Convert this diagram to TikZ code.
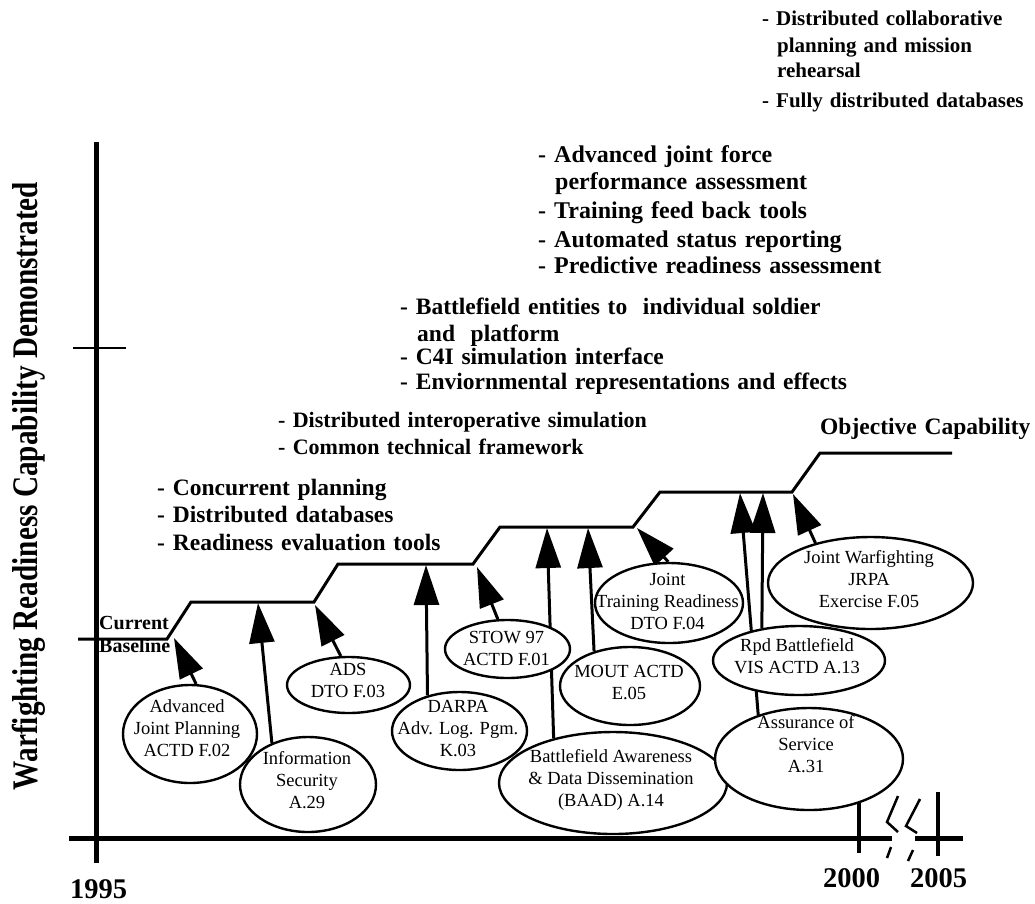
\documentclass[tikz,border=0pt]{standalone}
\usepackage{fontspec}
\setmainfont{Liberation Serif}
\usepackage{graphicx}
\usetikzlibrary{arrows.meta,shapes.geometric}
\pgfdeclarelayer{background}
\pgfsetlayers{background,main}

\begin{document}
\begin{tikzpicture}[x=1pt,y=-1pt,
  axisline/.style={line width=4.5pt},
  thintick/.style={line width=2pt},
  breakmark/.style={line width=2.5pt},
  stepline/.style={line width=3pt,line join=miter},
  oval/.style={ellipse,draw,fill=white,line width=2.4pt,inner sep=0pt},
  ovaltext/.style={font=\fontsize{18.5}{22}\selectfont,align=center,inner sep=0pt},
  feed/.style={line width=3pt,-{Triangle[length=40pt,width=25pt]}},
  bullets/.style={font=\fontsize{22}{27}\selectfont\bfseries,text width=520pt,
    align=left,anchor=base west,inner sep=0pt},
  bulletsize/.style={font=\fontsize{#1}{27}\selectfont\bfseries},
  yearlabel/.style={font=\fontsize{28.5}{30}\selectfont\bfseries,anchor=base,inner sep=0pt}]
\useasboundingbox (0,0) rectangle (1035,903);

% axes
\draw[axisline] (96.5,142) -- (96.5,863);
\draw[axisline,line width=5pt] (69,838) -- (892,838);
\draw[axisline,line width=5pt] (915,838) -- (963,838);
\draw[thintick] (73,348) -- (126,348);
\draw[axisline] (859,790) -- (859,853);
\draw[axisline] (938,792) -- (938,856);
% axis break
\draw[breakmark] (898,796) -- (887,822) -- (898,832);
\draw[breakmark] (891,847) -- (887,858);
\draw[breakmark] (920,799) -- (906,826) -- (917,833);
\draw[breakmark] (913,850) -- (908,861);

% capability staircase
\draw[stepline] (78,639) -- (167,639) -- (191,602) -- (314,602) -- (338,564)
  -- (473,564) -- (500,527) -- (633,527) -- (660,492) -- (792,492)
  -- (820,453) -- (952,453);

% arrow tips on the staircase
\coordinate (t1) at (174,638);
\coordinate (t2) at (258,603);
\coordinate (t3) at (315,605);
\coordinate (t4) at (426,565);
\coordinate (t5) at (477,567);
\coordinate (t6) at (547,528);
\coordinate (t7) at (588,528);
\coordinate (t8) at (637,528);
\coordinate (t9) at (740,493);
\coordinate (t10) at (763,493);
\coordinate (t11) at (793,494);

% programmes
\node[oval,minimum width=134pt,minimum height=98pt] (adv) at (190,734) {};
\node[ovaltext] at (187,728.5) {Advanced\\Joint Planning\\ACTD F.02};
\node[oval,minimum width=136pt,minimum height=95pt] (info) at (308,784.5) {};
\node[ovaltext] at (307,780.5) {Information\\Security\\A.29};
\node[oval,minimum width=123pt,minimum height=56pt] (ads) at (348.5,685) {};
\node[ovaltext] at (348,680.5) {ADS\\DTO F.03};
\node[oval,minimum width=135pt,minimum height=78pt] (darpa) at (459.5,731) {};
\node[ovaltext] at (458,729) {DARPA\\Adv. Log. Pgm.\\K.03};
\node[oval,minimum width=125pt,minimum height=58pt] (stow) at (507.5,649) {};
\node[ovaltext] at (506.5,648) {STOW 97\\ACTD F.01};
\node[oval,minimum width=140pt,minimum height=78pt] (mout) at (630,686) {};
\node[ovaltext] at (629,682) {MOUT ACTD\\E.05};
\node[oval,minimum width=148pt,minimum height=80pt] (jtr) at (669,603) {};
\node[ovaltext] at (667.5,601) {Joint\\Training Readiness\\DTO F.04};
\node[oval,minimum width=228pt,minimum height=102pt] (baad) at (613,783) {};
\node[ovaltext] at (611,780) {Battlefield Awareness\\\& Data Dissemination\\(BAAD) A.14};
\node[oval,minimum width=172pt,minimum height=69pt] (rpd) at (799,660.5) {};
\node[ovaltext] at (797,656.5) {Rpd Battlefield\\VIS ACTD A.13};
\node[oval,minimum width=188pt,minimum height=102pt] (assur) at (809,759) {};
\node[ovaltext] at (806,744.5) {Assurance of\\Service\\A.31};
\node[oval,minimum width=205pt,minimum height=92pt] (jwf) at (870.5,583) {};
\node[ovaltext] at (869,579.5) {Joint Warfighting\\JRPA\\Exercise F.05};

% contributions
\begin{pgfonlayer}{background}
\draw[feed] (adv.83) -- (t1);
\draw[feed] (info.131) -- (t2);
\draw[feed] (ads.105) -- (t3);
\draw[feed] (darpa.132) -- (t4);
\draw[feed] (stow.108) -- (t5);
\draw[feed] (baad.143) -- (t6);
\draw[feed] (mout.136) -- (t7);
\draw[feed] (jtr.91) -- (t8);
\draw[feed] (assur.139) -- (t9);
\draw[feed] (rpd.139) -- (t10);
\draw[feed] (jwf.144) -- (t11);
\end{pgfonlayer}

% capability notes
\node[bullets,bulletsize=23.5] (capA) at (157,495) {- Concurrent planning\\- Distributed databases\\[1pt]- Readiness evaluation tools};
\node[bullets] (capB) at (278,427) {- Distributed interoperative simulation\\- Common technical framework};
\node[bullets,bulletsize=23.5] (capC) at (400,314) {- Battlefield entities to~~individual soldier\\\hspace*{17pt}and~~platform\\[-4pt]- C4I simulation interface\\[-2pt]- Enviornmental representations and effects};
\node[bullets,bulletsize=24] (capD) at (538,162) {- Advanced joint force\\\hspace*{17pt}performance assessment\\[2pt]- Training feed back tools\\[2pt]- Automated status reporting\\[-1pt]- Predictive readiness assessment};
\node[bullets,bulletsize=21] (capE) at (762,25) {- Distributed collaborative\\\hspace*{15pt}planning and mission\\[-2pt]\hspace*{15pt}rehearsal\\[3pt]- Fully distributed databases};
\node[bullets,bulletsize=23.5] (objective) at (820,434) {Objective Capability};
\node[font=\fontsize{20}{23}\selectfont\bfseries,text width=100pt,align=left,anchor=base west,inner sep=0pt] (baseline) at (99,629) {Current\\Baseline};

% axis labels
\node[yearlabel] (y1995) at (98.5,898) {1995};
\node[yearlabel] (y2000) at (851.5,887) {2000};
\node[yearlabel] (y2005) at (938.5,887) {2005};
\node[rotate=90,anchor=base,inner sep=0pt] (ylabel) at (37.5,486)
  {\resizebox{608pt}{\height}{\fontsize{36}{36}\selectfont\bfseries Warfighting Readiness Capability Demonstrated}};
\end{tikzpicture}
\end{document}
